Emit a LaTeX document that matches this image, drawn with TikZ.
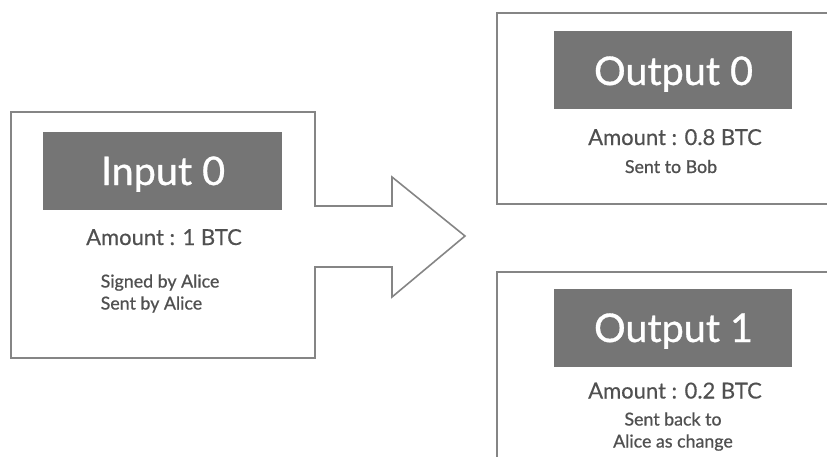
\documentclass[tikz,border=0pt]{standalone}
\usepackage{fontspec}
\setmainfont[FakeBold=0.8]{Lato}
\newfontfamily\lightlato[FakeBold=0.4]{Lato}
\definecolor{frame}{HTML}{858585}
\definecolor{banner}{HTML}{757575}
\definecolor{ink}{HTML}{505050}
\tikzset{
  outline/.style={draw=frame, line width=1.6pt, line join=miter},
  banner/.style={fill=banner, draw=none},
  title/.style={text=white, font=\fontsize{39.5}{42}\selectfont, anchor=base, inner sep=0pt},
  amount/.style={text=ink, font=\lightlato\fontsize{22}{26}\selectfont, anchor=base, inner sep=0pt},
  note/.style={text=ink, font=\fontsize{17.8}{22}\selectfont, anchor=base, inner sep=0pt},
}
\begin{document}
\begin{tikzpicture}[x=1pt, y=-1pt]
\useasboundingbox (0,0) rectangle (827,456);

% input box, its right side opening into the arrow
\draw[outline] (315,206) -- (315,112) -- (11,112) -- (11,358) -- (315,358) -- (315,267)
  -- (392,267) -- (392,297) -- (465,236) -- (392,177) -- (392,206) -- cycle;
\fill[banner] (43,132) rectangle (282,210);
\node[title] (in0) at (163,185) {Input 0};
\node[amount] (inamt) at (164,245) {Amount : 1 BTC};
% a multi-line node's base is its last baseline
\node[note, align=left, anchor=base west] (innote) at (100.5,309.5) {Signed by Alice\\Sent by Alice};

% output 0
\draw[outline] (835,13) -- (497,13) -- (497,204) -- (835,204);
\fill[banner] (554,31) rectangle (792,109);
\node[title] (out0) at (673.5,85) {Output 0};
\node[amount] (out0amt) at (675,145) {Amount : 0.8 BTC};
\node[note] (out0note) at (671,173) {Sent to Bob};

% output 1
\draw[outline] (835,272) -- (497,272) -- (497,465);
\fill[banner] (554,289) rectangle (792,367);
\node[title] (out1) at (673.5,342) {Output 1};
\node[amount] (out1amt) at (675,398.5) {Amount : 0.2 BTC};
\node[note, align=center, anchor=base] (out1note) at (673,447.5) {Sent back to\\Alice as change};
\end{tikzpicture}
\end{document}
